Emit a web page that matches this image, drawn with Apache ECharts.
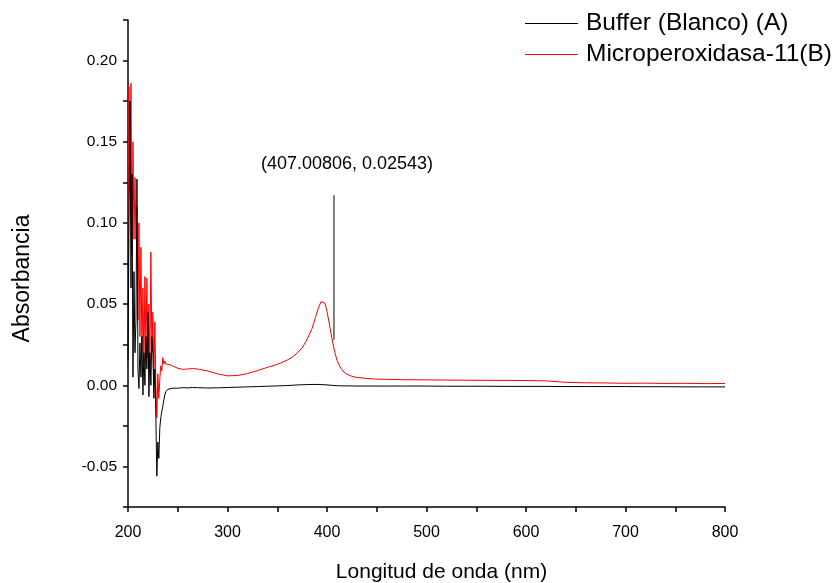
<!DOCTYPE html>
<html>
<head>
<meta charset="utf-8">
<script src="https://cdn.jsdelivr.net/npm/echarts@6/dist/echarts.min.js"></script>
<style>
html,body{margin:0;padding:0;background:#fff;}
#c{width:833px;height:583px;}
</style>
</head>
<body>
<div id="c"></div>
<script>
// Wavelength (nm)
var wavelength = [
  200,201,202,203,204,205,206,207,208,209,210,211,212,213,214,215,216,217,218,219,
  220,221,222,223,224,225,226,227,228,229,230,231,232,233,234,235,236,237,238,239,240,
  242,245,250,255,260,265,270,280,290,300,310,320,330,340,350,360,365,370,375,380,385,
  388,391,394,396,398,400,402,404,406,408,410,413,416,420,425,430,440,450,460,
  480,500,520,540,560,580,600,620,640,660,680,700,720,740,760,780,800
];
// Buffer (Blanco) (A)
var bufferAbs = [
  0.015,0.100,0.175,0.060,0.130,0.005,0.070,0.020,0.040,0.127,0.010,-0.002,0.026,0.005,0.030,-0.006,0.020,0.000,0.030,0.010,
  0.045,-0.007,0.020,0.000,0.030,0.020,-0.008,0.010,-0.020,-0.056,-0.035,-0.045,-0.026,-0.020,-0.016,-0.013,-0.009,-0.006,-0.004,-0.003,-0.0025,
  -0.0020,-0.0018,-0.0018,-0.0015,-0.0016,-0.0014,-0.0015,-0.0017,-0.0016,-0.0014,-0.0012,-0.0010,-0.0008,-0.0006,-0.0004,-0.0002,0.0000,0.0002,0.0003,0.0004,0.0005,
  0.0005,0.0005,0.0004,0.0004,0.0003,0.0002,0.0001,0.0000,-0.0001,-0.0002,-0.0003,-0.0003,-0.0004,-0.0004,-0.0004,-0.0005,-0.0005,-0.0005,-0.0005,
  -0.0005,-0.0005,-0.0006,-0.0006,-0.0006,-0.0007,-0.0007,-0.0007,-0.0008,-0.0008,-0.0008,-0.0008,-0.0009,-0.0009,-0.0010,-0.0010,-0.0010
];
// Microperoxidasa-11(B)
var microAbs = [
  0.090,0.184,0.120,0.186,0.080,0.150,0.090,0.128,0.090,0.110,0.040,0.100,0.030,0.085,0.020,0.060,0.013,0.067,0.020,0.066,
  0.017,0.050,0.012,0.082,0.020,0.045,0.005,0.039,0.000,-0.020,0.007,-0.008,0.004,0.012,0.009,0.017,0.013,0.015,0.013,0.014,0.0125,
  0.0128,0.0118,0.0105,0.0098,0.0100,0.0103,0.0100,0.0088,0.0070,0.0058,0.0060,0.0072,0.0090,0.0110,0.0128,0.0155,0.0172,0.0198,0.0230,0.0282,0.0350,
  0.0410,0.0470,0.0515,0.0525,0.0505,0.0455,0.0390,0.0320,0.0255,0.0200,0.0155,0.0115,0.0088,0.0068,0.0055,0.0048,0.0042,0.0038,0.0036,
  0.0034,0.0033,0.0032,0.0031,0.0030,0.0030,0.0029,0.0027,0.0018,0.0015,0.0014,0.0012,0.0013,0.0011,0.0012,0.0010,0.0011
];
var seriesNames = ['Buffer (Blanco) (A)', 'Microperoxidasa-11(B)'];
var seriesColors = ['#000000', '#ff0000'];
// Annotation
var annotX = 407.00806;
var annotY = 0.02543;
var annotLineY = [0.028, 0.117];

function pairs(xs, ys){ return xs.map(function(x,i){ return [x, ys[i]]; }); }

var FONT = '"Liberation Sans", Arial, sans-serif';
var chart = echarts.init(document.getElementById('c'), null, {renderer:'canvas'});

function legendFor(i, top){
  return {
    orient:'vertical', left:525, top:top, padding:0,
    itemWidth:53, itemHeight:2,
    icon:'path://M0,0 L53,0 L53,1.2 L0,1.2 Z',
    itemStyle:{color:seriesColors[i], borderColor:seriesColors[i], borderWidth:0},
    lineStyle:{color:seriesColors[i], width:1},
    textStyle:{fontFamily:FONT, fontSize:24.5, lineHeight:24, color:'#000', padding:[0,0,0,3]},
    data:[{name:seriesNames[i], itemStyle:{color:seriesColors[i]}}]
  };
}

chart.setOption({
  animation:false,
  backgroundColor:'#fff',
  grid:{left:128, right:108, top:20, bottom:76, containLabel:false, outerBoundsMode:'none'},
  legend:[legendFor(0, 11), legendFor(1, 42)],
  xAxis:{
    type:'value', min:200, max:800, interval:50,
    name:'Longitud de onda (nm)', nameLocation:'middle', nameGap:55,
    nameTextStyle:{fontFamily:FONT, fontSize:21, color:'#000', padding:[0,0,0,30]},
    axisLine:{show:true, onZero:false, lineStyle:{color:'#000', width:1.5}},
    axisTick:{show:true, inside:false, length:5, lineStyle:{color:'#000', width:1.5}},
    axisLabel:{fontFamily:FONT, fontSize:16, color:'#000', margin:18,
      formatter:function(v){ return (Math.round(v) % 100 === 0) ? String(Math.round(v)) : ''; }},
    splitLine:{show:false}
  },
  yAxis:{
    type:'value', min:-0.075, max:0.225, interval:0.025,
    name:'Absorbancia', nameLocation:'middle', nameGap:94, nameRotate:90,
    nameTextStyle:{fontFamily:FONT, fontSize:23, color:'#000', padding:[0,30,0,0]},
    axisLine:{show:true, onZero:false, lineStyle:{color:'#000', width:1.5}},
    axisTick:{show:true, inside:false, length:5, lineStyle:{color:'#000', width:1.5}},
    axisLabel:{fontFamily:FONT, fontSize:15.5, color:'#000', margin:11,
      formatter:function(v){
        var r = v/0.05;
        if (Math.abs(r - Math.round(r)) < 1e-6 && v > -0.07 && v < 0.22) return v.toFixed(2);
        return '';
      }},
    splitLine:{show:false}
  },
  series:[
    {
      name:seriesNames[0], type:'line', data:pairs(wavelength, bufferAbs),
      symbol:'none', smooth:false, color:seriesColors[0],
      itemStyle:{color:seriesColors[0]},
      lineStyle:{color:seriesColors[0], width:1}, z:3
    },
    {
      name:seriesNames[1], type:'line', data:pairs(wavelength, microAbs),
      symbol:'none', smooth:false, color:seriesColors[1],
      itemStyle:{color:seriesColors[1]},
      lineStyle:{color:seriesColors[1], width:1}, z:2
    },
    {
      name:'annotation', type:'line',
      data:[[annotX, annotLineY[0]], [annotX, annotLineY[1]]],
      symbol:'none', color:'#000', lineStyle:{color:'#000', width:1}, z:4, silent:true,
      markPoint:{
        silent:true, symbol:'circle', symbolSize:0,
        data:[{coord:[annotX, annotLineY[1]]}],
        label:{show:true, position:'inside', offset:[13,-31],
          fontFamily:FONT, fontSize:18, color:'#000',
          formatter:function(){ return '(' + annotX.toFixed(5) + ', ' + annotY.toFixed(5) + ')'; }}
      }
    }
  ]
});
</script>
</body>
</html>
